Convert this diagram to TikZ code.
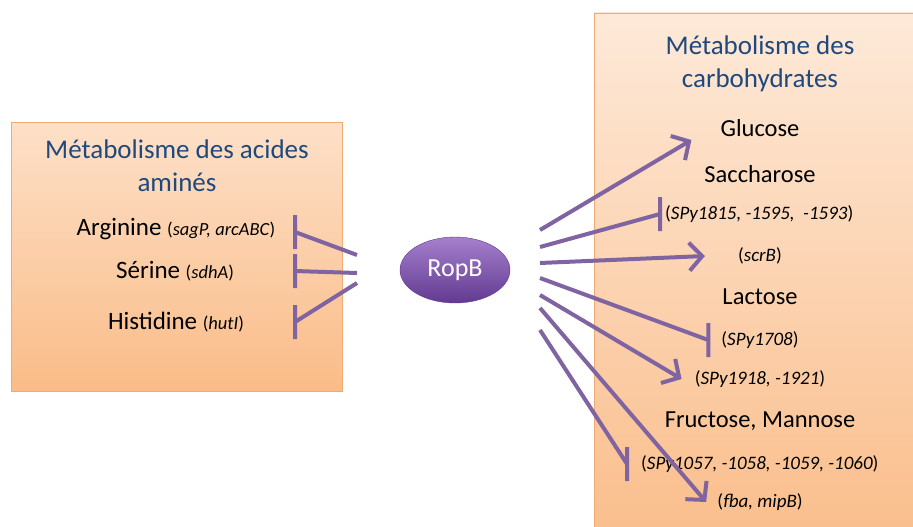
\documentclass[tikz,border=0pt]{standalone}
\usepackage{fontspec}
\setmainfont{Carlito}
\usepackage{tikz}
\usetikzlibrary{arrows.meta}
\usetikzlibrary{shapes.geometric}

\definecolor{boxtop}{RGB}{253,224,200}
\definecolor{boxbot}{RGB}{250,188,136}
\definecolor{boxline}{RGB}{240,170,115}
\definecolor{titleblue}{RGB}{31,73,125}
\definecolor{lien}{RGB}{128,100,162}
\definecolor{ropl}{RGB}{165,128,205}
\definecolor{ropd}{RGB}{98,58,145}

\begin{document}
\begin{tikzpicture}[x=1pt, y=-1pt,
        lien/.style={draw=lien, line width=4pt},
        act/.style={lien, -{Straight Barb[length=13pt, width=28pt]}},
        inh/.style={lien, to path={-- (\tikztotarget) ++(0, -17) -- ++(0, 34)}},
        titre/.style={text=titleblue, align=center, font=\fontsize{27}{33}\selectfont},
        item/.style={font=\fontsize{24.5}{28}\selectfont, inner sep=1pt},
        gauche/.style={font=\fontsize{25}{28}\selectfont, inner sep=1pt},
        gene/.style={font=\fontsize{19}{23}\selectfont, inner sep=1pt}]
        \clip (0, 0) rectangle (913, 527);
        % cadres
        \draw[boxline, top color=boxtop, bottom color=boxbot] (11, 122) rectangle (342, 391);
        \draw[boxline, top color=boxtop!70!white, bottom color=boxbot] (594, 13) rectangle (930, 560);
        \node[titre] (aa) at (177, 166) {Métabolisme des acides\\aminés};
        \node[titre] (ch) at (760, 64) {Métabolisme des\\carbohydrates};
        % RopB
        \node[ellipse, minimum width=110pt, minimum height=66pt, draw=ropd, top color=ropl, bottom color=ropd,
            text=white] (ropb) at (455, 270) {\fontsize{26}{30}\selectfont RopB};
        % acides amines
        \node[gauche] (arg) at (176, 229) {Arginine {\fontsize{18.5}{22}\selectfont(\textit{sagP, arcABC})}};
        \node[gauche] (ser) at (175, 271) {Sérine {\fontsize{18.5}{22}\selectfont(\textit{sdhA})}};
        \node[gauche] (his) at (176, 322) {Histidine {\fontsize{18.5}{22}\selectfont(\textit{hutI})}};
        % carbohydrates
        \node[item] (glu) at (760, 128) {Glucose};
        \node[item] (sac) at (760, 174) {Saccharose};
        \node[gene, anchor=west] (sp1) at (664, 214) {(\textit{SPy1815, -1595, \ -1593})};
        \node[gene] (scr) at (760, 256) {(\textit{scrB})};
        \node[item] (lac) at (760, 297) {Lactose};
        \node[gene] (sp2) at (760, 340) {(\textit{SPy1708})};
        \node[gene] (sp3) at (760, 379) {(\textit{SPy1918, -1921})};
        \node[item] (fru) at (760, 421) {Fructose, Mannose};
        \node[gene, anchor=west] (sp4) at (640, 464) {(\textit{SPy1057, -1058, -1059, -1060})};
        \node[gene] (fba) at (760, 502) {(\textit{fba, mipB})};
        % departs
        \coordinate (barx) at (295, 0);
        \coordinate (la) at (357, 255);
        \coordinate (lb) at (357, 273);
        \coordinate (lc) at (357, 283);
        \coordinate (ra) at (540, 230);
        \coordinate (rb) at (540, 247);
        \coordinate (rc) at (540, 263);
        \coordinate (rd) at (540, 278);
        \coordinate (re) at (540, 295);
        \coordinate (rf) at (540, 308);
        \coordinate (rg) at (540, 330);
        % liens
        \draw[inh] (la) to ([yshift=-3]arg.east -| barx);
        \draw[inh] (lb) to (ser.east -| barx);
        \draw[inh] (lc) to (his.east -| barx);
        \draw[act] (ra) -- ([shift={(-28, 12)}]glu.west);
        \draw[inh] (rb) to ([xshift=-4]sp1.west);
        \draw[act] (rc) -- ([xshift=-32]scr.west);
        \draw[inh] (rd) to ([xshift=-12]sp2.west);
        \draw[act] (re) -- ([xshift=-12]sp3.west);
        \draw[act] (rf) -- ([xshift=-10]fba.west);
        \draw[inh] (rg) to ([xshift=-13]sp4.west);
\end{tikzpicture}
\end{document}
